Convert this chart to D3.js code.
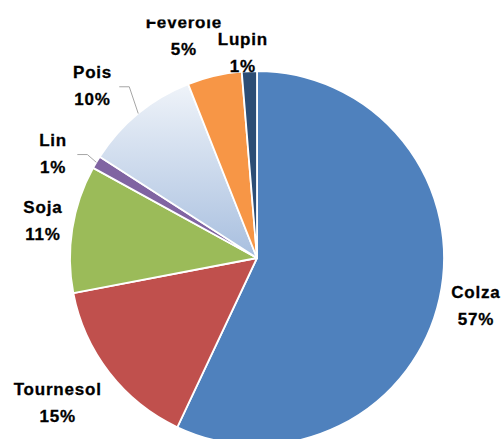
<!DOCTYPE html>
<html><head><meta charset="utf-8">
<script src="https://cdn.jsdelivr.net/npm/d3@7"></script>
<style>body{margin:0;background:#fff}svg{display:block}</style>
</head><body>
<svg id="c" width="501" height="439"></svg>
<script>
const categories = ["Colza","Tournesol","Soja","Lin","Pois","Féverole","Lupin"];
const values = [57.0, 15.0, 11.0, 1.1, 9.9, 4.7, 1.3];
const colors = ["#4f81bd","#c0504d","#9bbb59","#8064a2","url(#poisGrad)","#f79646","#2c4d75"];

const W = 501, H = 439, cx = 257, cy = 258, R = 187;
const svg = d3.select("#c");
const defs = svg.append("defs");
const g1 = defs.append("linearGradient").attr("id","poisGrad")
  .attr("gradientUnits","userSpaceOnUse").attr("x1",0).attr("x2",0).attr("y1",-R).attr("y2",0);
g1.append("stop").attr("offset","0").attr("stop-color","#f4f7fb");
g1.append("stop").attr("offset","1").attr("stop-color","#a8bfdf");
defs.append("clipPath").attr("id","area").append("rect").attr("x",0).attr("y",19.5).attr("width",W).attr("height",H);

const total = d3.sum(values);
const pie = d3.pie().sort(null).value(d => d)(values);
const arc = d3.arc().innerRadius(0).outerRadius(R);
const g = svg.append("g").attr("transform",`translate(${cx},${cy})`);
g.selectAll("path").data(pie).join("path")
  .attr("d", arc).attr("fill",(d,i)=>colors[i])
  .attr("stroke","#fff").attr("stroke-width",1.8).attr("stroke-linejoin","round");

// label layout (outside end, with manual adjustments like the original)
const nudge = {"Tournesol":[2,7],"Soja":[2,-3],"Lin":[-19,9],"Pois":[-22,1],"Féverole":[-19,-9],"Lupin":[-5,13]};
const leader = new Set(["Lin","Pois"]);
const lab = svg.append("g").attr("clip-path","url(#area)")
  .style("font-family","'Liberation Sans', Arial, sans-serif").style("font-weight","bold")
  .style("font-size","17px").style("letter-spacing","0.8px")
  .attr("stroke","#000").attr("stroke-width",0.3);
const hBox = 39, rl = R + 12;
pie.forEach((d,i) => {
  const name = categories[i];
  const pct = Math.round(d.data / total * 100) + "%";
  const a = (d.startAngle + d.endAngle) / 2;
  const s = Math.sin(a), c = -Math.cos(a);
  const m = Math.max(Math.abs(s), Math.abs(c));
  const t = lab.append("text").attr("text-anchor","middle").attr("fill","#000");
  const t1 = t.append("tspan").text(name);
  const t2 = t.append("tspan").text(pct);
  const w = Math.max(t1.node().getComputedTextLength(), t2.node().getComputedTextLength());
  const px = cx + rl*s, py = cy + rl*c;
  const nd = nudge[name] || [0,0];
  const lx = px + (s/m)*w/2 + nd[0];
  const ly = py + (c/m)*hBox/2 + nd[1];
  t1.attr("x",lx).attr("y",ly-7.5);
  t2.attr("x",lx).attr("y",ly+19.5);
  if (leader.has(name)) {
    const ex = cx + R*s, ey = cy + R*c;
    const elx = ex - 9, ely = ly + 1;
    svg.append("polyline").attr("fill","none").attr("stroke","#a6a6a6").attr("stroke-width",1)
      .attr("points",`${elx-10},${ely} ${elx},${ely} ${ex},${ey}`);
  }
});
</script>
</body></html>
